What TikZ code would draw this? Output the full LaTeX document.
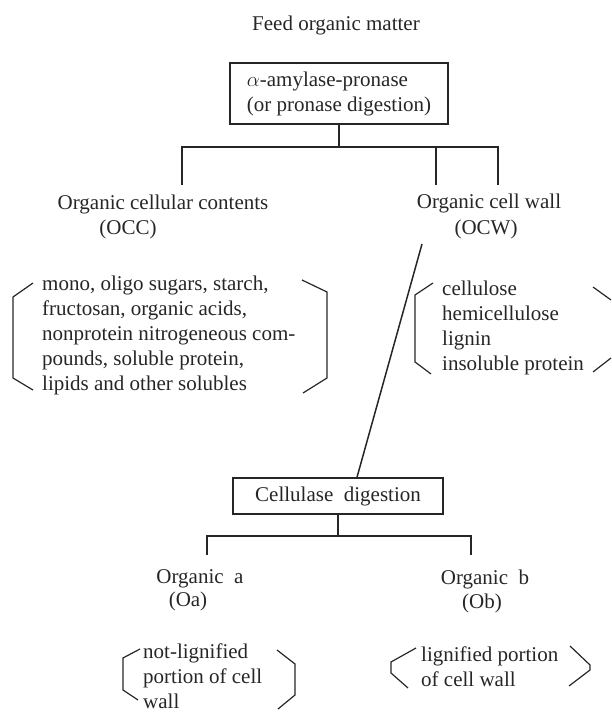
\documentclass[tikz,border=0pt]{standalone}
\usepackage{fontspec}
\setmainfont{Liberation Serif}
\usetikzlibrary{positioning}
\tikzset{
  txt/.style={text=black!85, font=\fontsize{21}{25}\selectfont},
  lbl/.style={txt, anchor=base, inner sep=0pt},
  lst/.style={txt, anchor=north west, inner sep=0pt, align=left},
  procbox/.style={txt, draw=black!85, line width=1.5pt, align=left, inner xsep=15pt, inner ysep=0pt},
  link/.style={draw=black!85, line width=1.5pt},
  brk/.style={draw=black!85, line width=1.2pt, line join=miter},
}
\begin{document}
\begin{tikzpicture}[x=1pt, y=-1pt]
  \useasboundingbox (0,0) rectangle (611,714);
  \node[lbl] (feed) at (336,31) {Feed organic matter};
  \node[procbox, minimum width=218pt, minimum height=61pt] (amyl) at (339,93.5)
    {$\alpha$-amylase-pronase\\(or pronase digestion)};
  \node[lbl] (occ) at (163,209) {Organic cellular contents};
  \node[lbl] (occab) at (128,234) {(OCC)};
  \node[lbl] (ocw) at (489,208) {Organic cell wall};
  \node[lbl] (ocwab) at (486,234) {(OCW)};
  \node[lst] (occlist) at (42,276) {mono, oligo sugars, starch,\\fructosan, organic acids,\\nonprotein nitrogeneous com-\\pounds, soluble protein,\\lipids and other solubles};
  \node[lst] (ocwlist) at (442,281) {cellulose\\hemicellulose\\lignin\\insoluble protein};
  \node[procbox, minimum width=210pt, minimum height=36pt] (cell) at (338,496)
    {Cellulase\ \ digestion};
  \node[lbl] (orga) at (200,583) {Organic\ \ a};
  \node[lbl] (oaab) at (188,606) {(Oa)};
  \node[lbl] (orgb) at (485,584) {Organic\ \ b};
  \node[lbl] (obab) at (482,608) {(Ob)};
  \node[lst] (oalist) at (143,644) {not-lignified\\portion of cell\\wall};
  \node[lst] (oblist) at (421,647) {lignified portion\\of cell wall};

  \path (182,185) coordinate (tA) (436,185) coordinate (tB) (498,185) coordinate (tC)
        (207,555) coordinate (tD) (471,555) coordinate (tE) (422,244) coordinate (wallout);
  \draw[link] (amyl.south) -- (amyl.south |- 0,147) coordinate (jA);
  \draw[link] (tA) |- (jA) -| (tC);
  \draw[link] (tB) -- (tB |- jA);
  \draw[link] (wallout) -- ([xshift=19pt]cell.north);
  \draw[link] (cell.south) -- (cell.south |- 0,536) coordinate (jB);
  \draw[link] (tD) |- (jB) -| (tE);

  \draw[brk] (33,283) -- (13,297) -- (13,378) -- (33,390);
  \draw[brk] (302,280) -- (327,292) -- (327,378) -- (303,393);
  \draw[brk] (433,283) -- (415,295) -- (415,362) -- (431,374);
  \draw[brk] (593,287) -- (611,300);
  \draw[brk] (611,358) -- (593,372);
  \draw[brk] (140,649) -- (123,658) -- (123,690) -- (138,700);
  \draw[brk] (277,650) -- (295,664) -- (295,695) -- (278,709);
  \draw[brk] (416,648) -- (391,662) -- (391,673) -- (408,688);
  \draw[brk] (570,646) -- (590,665) -- (590,670) -- (569,686);
\end{tikzpicture}
\end{document}
